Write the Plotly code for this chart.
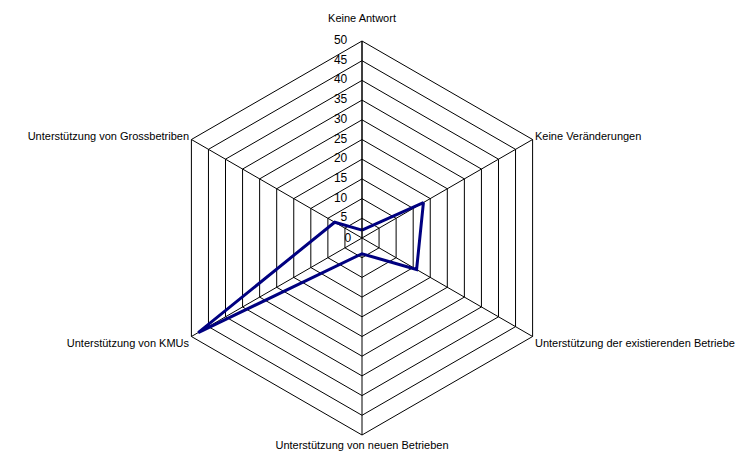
import plotly.graph_objects as go

categories = ["Keine Antwort", "Keine Veränderungen", "Unterstützung der existierenden Betriebe",
              "Unterstützung von neuen Betrieben", "Unterstützung von KMUs", "Unterstützung von Grossbetriben"]
values = [2, 18, 16, 4, 48, 8]
radial_ticks = list(range(0, 51, 5))

# top label gets an empty second line so it sits above the radial tick labels
category_labels = [categories[0] + "<br> "] + categories[1:]

fig = go.Figure()
fig.add_trace(go.Scatterpolar(
    r=values + values[:1],
    theta=categories + categories[:1],
    mode="lines",
    line=dict(color="#000080", width=3),
    showlegend=False,
))
# radial tick labels 5..50 placed through the polar scale along the "Keine Antwort" axis
outer_ticks = radial_ticks[1:]
fig.add_trace(go.Scatterpolar(
    r=outer_ticks,
    theta=[categories[0]] * len(outer_ticks),
    mode="markers+text",
    marker=dict(size=22, color="rgba(0,0,0,0)"),
    text=[str(t) for t in outer_ticks],
    textposition="middle left",
    textfont=dict(size=12, color="black"),
    hoverinfo="skip",
    showlegend=False,
    cliponaxis=False,
))

# centre label "0" comes from the radial axis itself
radial_ticktext = [str(radial_ticks[0])] + [""] * (len(radial_ticks) - 1)

fig.update_layout(
    width=753, height=452,
    paper_bgcolor="white",
    margin=dict(l=157, r=202, t=33, b=25),
    font=dict(family="Liberation Sans, Arial, sans-serif", size=11, color="black"),
    polar=dict(
        bgcolor="white",
        gridshape="linear",
        domain=dict(x=[0, 1], y=[0, 1]),
        angularaxis=dict(
            direction="clockwise", rotation=90,
            tickvals=categories, ticktext=category_labels,
            showline=True, linecolor="black", linewidth=1,
            gridcolor="black", gridwidth=1,
            ticks="", tickfont=dict(size=11),
        ),
        radialaxis=dict(
            range=[0, 50], tickvals=radial_ticks, ticktext=radial_ticktext,
            angle=90, tickangle=90, side="counterclockwise",
            showticklabels=True,
            showline=True, linecolor="black", linewidth=1,
            gridcolor="black", gridwidth=1,
            ticks="outside", ticklen=6, tickcolor="rgba(0,0,0,0)",
            tickfont=dict(size=12),
        ),
    ),
)

fig.write_html("out.html")
